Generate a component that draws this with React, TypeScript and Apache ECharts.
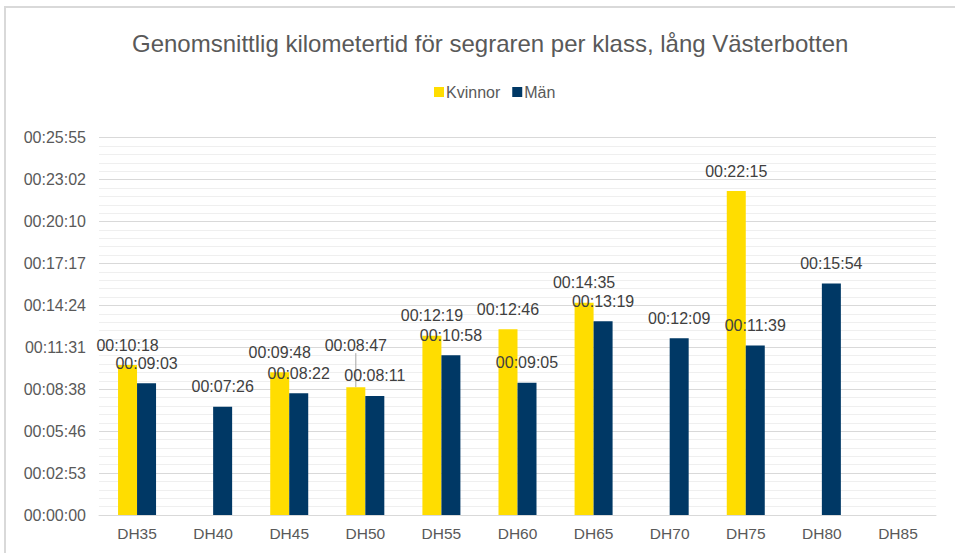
import React, { useEffect, useRef } from "react";
import * as echarts from "echarts";

const categories = ["DH35", "DH40", "DH45", "DH50", "DH55", "DH60", "DH65", "DH70", "DH75", "DH80", "DH85"];
// seconds per km
const kvinnor: (number | null)[] = [618, null, 588, 527, 739, 766, 875, null, 1335, null, null];
const man: (number | null)[] = [543, 446, 502, 491, 658, 545, 799, 729, 699, 954, null];
const seriesNames = ["Kvinnor", "Män"];
const axisMax = 1555.2;
const axisInterval = 172.8;

function fmt(sec: number): string {
  const s = Math.round(sec);
  const h = Math.floor(s / 3600);
  const m = Math.floor((s % 3600) / 60);
  const r = s % 60;
  const p = (n: number) => String(n).padStart(2, "0");
  return `${p(h)}:${p(m)}:${p(r)}`;
}

export default function App() {
  const ref = useRef<HTMLDivElement>(null);
  useEffect(() => {
    if (!ref.current) return;
    const chart = echarts.init(ref.current, undefined, { renderer: "svg" });
    const font = "'Liberation Sans', Arial, sans-serif";
    const labelCommon = {
      show: true,
      position: "top" as const,
      distance: 12,
      color: "#404040",
      fontSize: 16,
      fontFamily: font,
      formatter: (p: any) => fmt(p.value),
    };
    // the DH50 women's label is lifted with a leader line, as in the original
    const kvData = kvinnor.map((v, i) =>
      i === 3
        ? { value: v, labelLine: { show: true, lineStyle: { color: "#a6a6a6", width: 1 } } }
        : v
    );
    chart.setOption({
      animation: false,
      textStyle: { fontFamily: font },
      graphic: [
        {
          type: "rect",
          shape: { x: 5, y: 7, width: 960, height: 560 },
          style: { fill: "none", stroke: "#d9d9d9", lineWidth: 2 },
          silent: true,
        },
      ],
      title: {
        text: "Genomsnittlig kilometertid för segraren per klass, lång Västerbotten",
        left: 127,
        top: 26,
        textStyle: { fontSize: 24, fontWeight: "normal", color: "#595959", fontFamily: font },
      },
      legend: {
        data: seriesNames,
        top: 79,
        left: 429,
        itemWidth: 10,
        itemHeight: 10,
        itemGap: 12,
        icon: "rect",
        textStyle: { fontSize: 16, color: "#595959", fontFamily: font, padding: [0, 0, 0, -3] },
      },
      grid: { left: 99, right: 19, top: 137.7, bottom: 38, containLabel: false },
      xAxis: {
        type: "category",
        data: categories,
        axisLine: { lineStyle: { color: "#d9d9d9", width: 1 } },
        axisTick: { show: false },
        axisLabel: { color: "#595959", fontSize: 15.5, margin: 10, fontFamily: font },
      },
      yAxis: {
        type: "value",
        min: 0,
        max: axisMax,
        interval: axisInterval,
        axisLine: { show: false },
        axisTick: { show: false },
        axisLabel: {
          color: "#595959",
          fontSize: 16,
          margin: 13,
          fontFamily: font,
          formatter: (v: number) => fmt(v),
        },
        splitLine: { lineStyle: { color: "#d9d9d9", width: 1 } },
        minorTick: { show: false, splitNumber: 5 },
        minorSplitLine: { show: true, lineStyle: { color: "#efefef", width: 1 } },
      },
      series: [
        {
          name: seriesNames[0],
          type: "bar",
          data: kvData,
          barWidth: 19,
          barGap: "0%",
          itemStyle: { color: "#FFDD00" },
          label: labelCommon,
          labelLine: { show: false },
          labelLayout: (p: any) => (p.dataIndex === 3 ? { dy: -22 } : {}),
        },
        {
          name: seriesNames[1],
          type: "bar",
          data: man,
          barWidth: 19,
          barGap: "0%",
          itemStyle: { color: "#003865" },
          label: labelCommon,
        },
      ],
    });
    return () => chart.dispose();
  }, []);
  return (
    <div style={{ position: "absolute", left: 0, top: 0, width: 955, height: 553, background: "#fff" }}>
      <div ref={ref} style={{ width: 955, height: 553 }} />
    </div>
  );
}
